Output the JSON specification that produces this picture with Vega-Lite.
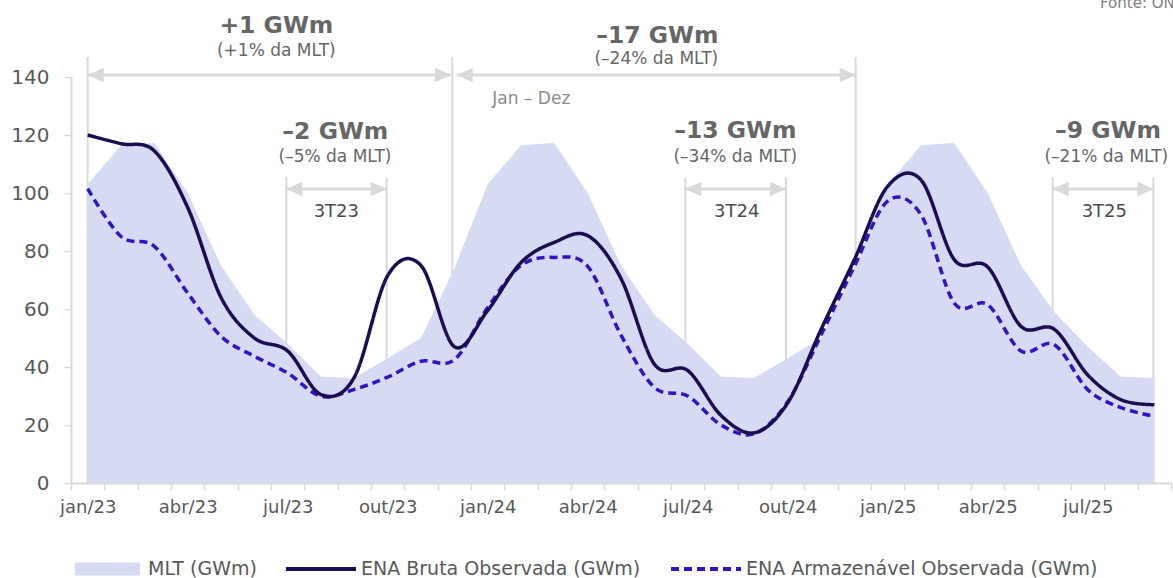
{
  "$schema": "https://vega.github.io/schema/vega-lite/v6.json",
  "width": 1100,
  "height": 406,
  "autosize": {"type": "none"},
  "padding": {"left": 71, "top": 77, "right": 2, "bottom": 95},
  "config": {
    "view": {"stroke": null},
    "font": "DejaVu Sans",
    "legend": {
      "orient": "none",
      "direction": "horizontal",
      "labelLimit": 0,
      "labelFont": "DejaVu Sans",
      "labelFontSize": 19,
      "labelColor": "#595959",
      "symbolOpacity": 1
    }
  },
  "resolve": {"axis": {"x": "independent", "y": "independent"}},
  "datasets": {
    "serie": [
      {"m": 0, "mlt": 103, "bruta": 120, "armazenavel": 101.5},
      {"m": 1, "mlt": 116.5, "bruta": 117, "armazenavel": 85},
      {"m": 2, "mlt": 117.2, "bruta": 114.5, "armazenavel": 81.6},
      {"m": 3, "mlt": 100, "bruta": 95, "armazenavel": 65.5},
      {"m": 4, "mlt": 75, "bruta": 64, "armazenavel": 50.6},
      {"m": 5, "mlt": 58, "bruta": 50, "armazenavel": 43.7},
      {"m": 6, "mlt": 48, "bruta": 45.5, "armazenavel": 37.9},
      {"m": 7, "mlt": 36.6, "bruta": 30.5, "armazenavel": 29.9},
      {"m": 8, "mlt": 36.2, "bruta": 36.5, "armazenavel": 32.3},
      {"m": 9, "mlt": 43, "bruta": 71.5, "armazenavel": 36.5},
      {"m": 10, "mlt": 50, "bruta": 75, "armazenavel": 42},
      {"m": 11, "mlt": 74, "bruta": 47, "armazenavel": 42.5},
      {"m": 12, "mlt": 103, "bruta": 59.5, "armazenavel": 60.5},
      {"m": 13, "mlt": 116.5, "bruta": 76, "armazenavel": 75},
      {"m": 14, "mlt": 117.2, "bruta": 83, "armazenavel": 77.8},
      {"m": 15, "mlt": 100, "bruta": 85.3, "armazenavel": 74.7},
      {"m": 16, "mlt": 75, "bruta": 70.5, "armazenavel": 51},
      {"m": 17, "mlt": 58, "bruta": 41, "armazenavel": 33},
      {"m": 18, "mlt": 48, "bruta": 38.8, "armazenavel": 30},
      {"m": 19, "mlt": 36.6, "bruta": 23.3, "armazenavel": 20},
      {"m": 20, "mlt": 36.2, "bruta": 17.3, "armazenavel": 17},
      {"m": 21, "mlt": 43, "bruta": 27.6, "armazenavel": 28},
      {"m": 22, "mlt": 50, "bruta": 52.9, "armazenavel": 51},
      {"m": 23, "mlt": 74, "bruta": 77, "armazenavel": 74.7},
      {"m": 24, "mlt": 103, "bruta": 102.3, "armazenavel": 97.2},
      {"m": 25, "mlt": 116.5, "bruta": 104.5, "armazenavel": 92.5},
      {"m": 26, "mlt": 117.2, "bruta": 77, "armazenavel": 62},
      {"m": 27, "mlt": 100, "bruta": 74.5, "armazenavel": 61.5},
      {"m": 28, "mlt": 75, "bruta": 54, "armazenavel": 45.5},
      {"m": 29, "mlt": 59, "bruta": 53, "armazenavel": 47.7},
      {"m": 30, "mlt": 47, "bruta": 37.3, "armazenavel": 32.2},
      {"m": 31, "mlt": 36.6, "bruta": 28.7, "armazenavel": 26},
      {"m": 32, "mlt": 36.2, "bruta": 27, "armazenavel": 23}
    ],
    "marcos": [
      {"m": 0, "topo": 146.9},
      {"m": 10.94, "topo": 146.9},
      {"m": 23.04, "topo": 146.8},
      {"m": 5.96, "topo": 105.4},
      {"m": 8.97, "topo": 105.4},
      {"m": 17.93, "topo": 105.4},
      {"m": 20.95, "topo": 105.4},
      {"m": 28.95, "topo": 105.4},
      {"m": 31.97, "topo": 105.4}
    ],
    "intervalos": [
      {"inicio": 0, "fim": 10.9, "v": 140.7},
      {"inicio": 11.07, "fim": 23.04, "v": 140.7},
      {"inicio": 5.96, "fim": 8.97, "v": 101.4},
      {"inicio": 17.93, "fim": 20.95, "v": 101.4},
      {"inicio": 28.95, "fim": 31.97, "v": 101.4}
    ],
    "destaques": [
      {"m": 5.66, "v": 157.6, "texto": "+1 GWm"},
      {"m": 17.09, "v": 154.1, "texto": "–17 GWm"},
      {"m": 7.43, "v": 121.2, "texto": "–2 GWm"},
      {"m": 19.43, "v": 121.3, "texto": "–13 GWm"},
      {"m": 30.61, "v": 121.3, "texto": "–9 GWm"}
    ],
    "notas": [
      {"m": 5.66, "v": 148.8, "texto": "(+1% da MLT)"},
      {"m": 17.06, "v": 146.2, "texto": "(–24% da MLT)"},
      {"m": 7.42, "v": 112.4, "texto": "(–5% da MLT)"},
      {"m": 19.43, "v": 112.5, "texto": "(–34% da MLT)"},
      {"m": 30.56, "v": 112.5, "texto": "(–21% da MLT)"}
    ],
    "trimestres": [
      {"m": 7.46, "v": 93.6, "texto": "3T23"},
      {"m": 19.47, "v": 93.6, "texto": "3T24"},
      {"m": 30.5, "v": 93.6, "texto": "3T25"}
    ],
    "periodo": [
      {"m": 13.31, "v": 132.3, "texto": "Jan – Dez"}
    ],
    "fonte": [
      {"m": 30.37, "v": 165.5, "texto": "Fonte: ONS"}
    ]
  },
  "layer": [
    {
      "data": {"name": "marcos"},
      "mark": {"type": "rule", "color": "#D9D9D9", "strokeWidth": 2},
      "encoding": {
        "x": {"field": "m", "type": "quantitative", "scale": {"domain": [-0.5, 32.5], "nice": false, "zero": false}, "axis": null},
        "y": {"field": "topo", "type": "quantitative", "scale": {"domain": [0, 140], "nice": false}, "axis": null},
        "y2": {"datum": 0}
      }
    },
    {
      "data": {"name": "serie"},
      "transform": [
        {"fold": ["mlt", "bruta", "armazenavel"], "as": ["serie", "valor"]},
        {"filter": "datum.serie === 'mlt'"}
      ],
      "mark": {"type": "area", "interpolate": "linear", "opacity": 1},
      "encoding": {
        "x": {
          "field": "m", "type": "quantitative",
          "scale": {"domain": [-0.5, 32.5], "nice": false, "zero": false},
          "axis": {
            "title": null,
            "orient": "bottom",
            "grid": false,
            "values": [-0.5, 0.5, 1.5, 2.5, 3.5, 4.5, 5.5, 6.5, 7.5, 8.5, 9.5, 10.5, 11.5, 12.5, 13.5, 14.5, 15.5, 16.5, 17.5, 18.5, 19.5, 20.5, 21.5, 22.5, 23.5, 24.5, 25.5, 26.5, 27.5, 28.5, 29.5, 30.5, 31.5, 32.5],
            "labelExpr": "(datum.value + 0.5) % 3 == 0 && datum.value < 32 ? ['jan', 'abr', 'jul', 'out'][((datum.value + 0.5) % 12) / 3] + '/' + (23 + floor((datum.value + 0.5) / 12)) : ''",
            "labelOffset": 16.67,
            "labelFlush": false,
            "labelOverlap": false,
            "labelBound": false,
            "labelAlign": "center",
            "labelFont": "DejaVu Sans",
            "labelFontSize": 18,
            "labelColor": "#595959",
            "labelPadding": 8,
            "domainColor": "#D9D9D9",
            "domainWidth": 2,
            "tickColor": "#D9D9D9",
            "tickWidth": 1.5,
            "tickSize": 7
          }
        },
        "y": {
          "field": "valor", "type": "quantitative",
          "scale": {"domain": [0, 140], "nice": false},
          "axis": {
            "title": null,
            "orient": "left",
            "grid": false,
            "values": [0, 20, 40, 60, 80, 100, 120, 140],
            "labelFont": "DejaVu Sans",
            "labelFontSize": 20,
            "labelColor": "#595959",
            "labelPadding": 15,
            "domainColor": "#D9D9D9",
            "domainWidth": 2,
            "tickColor": "#D9D9D9",
            "tickWidth": 1.5,
            "tickSize": 7
          }
        },
        "fill": {
          "field": "serie", "type": "nominal",
          "scale": {"domain": ["mlt"], "range": ["#D6DAF3"]},
          "legend": {
            "title": null,
            "legendX": 4,
            "legendY": 459.5,
            "symbolType": "M-1,-0.2H1V0.2H-1Z",
            "symbolSize": 4225,
            "symbolStrokeWidth": 0,
            "labelOffset": 8,
            "labelExpr": "'MLT (GWm)'"
          }
        }
      }
    },
    {
      "data": {"name": "serie"},
      "transform": [
        {"fold": ["mlt", "bruta", "armazenavel"], "as": ["serie", "valor"]},
        {"filter": "datum.serie === 'armazenavel'"}
      ],
      "mark": {"type": "line", "interpolate": "cardinal", "strokeWidth": 3.5},
      "encoding": {
        "x": {"field": "m", "type": "quantitative", "scale": {"domain": [-0.5, 32.5], "nice": false, "zero": false}, "axis": null},
        "y": {"field": "valor", "type": "quantitative", "scale": {"domain": [0, 140], "nice": false}, "axis": null},
        "stroke": {
          "field": "serie", "type": "nominal",
          "scale": {"domain": ["bruta", "armazenavel"], "range": ["#1B0D50", "#3413C2"]},
          "legend": {"title": null, "legendX": 213, "legendY": 455, "symbolType": "stroke", "symbolSize": 4900, "symbolStrokeWidth": 4, "labelOffset": 3, "columnPadding": 22, "labelExpr": "datum.label === 'bruta' ? 'ENA Bruta Observada (GWm)' : 'ENA Armazenável Observada (GWm)'"}
        },
        "strokeDash": {
          "field": "serie", "type": "nominal",
          "scale": {"domain": ["bruta", "armazenavel"], "range": [[1, 0], [8, 5]]},
          "legend": {"title": null, "legendX": 213, "legendY": 455, "symbolType": "stroke", "symbolSize": 4900, "symbolStrokeWidth": 4, "labelOffset": 3, "columnPadding": 22, "labelExpr": "datum.label === 'bruta' ? 'ENA Bruta Observada (GWm)' : 'ENA Armazenável Observada (GWm)'"}
        }
      }
    },
    {
      "data": {"name": "serie"},
      "transform": [
        {"fold": ["mlt", "bruta", "armazenavel"], "as": ["serie", "valor"]},
        {"filter": "datum.serie === 'bruta'"}
      ],
      "mark": {"type": "line", "interpolate": "cardinal", "strokeWidth": 3.5},
      "encoding": {
        "x": {"field": "m", "type": "quantitative", "scale": {"domain": [-0.5, 32.5], "nice": false, "zero": false}, "axis": null},
        "y": {"field": "valor", "type": "quantitative", "scale": {"domain": [0, 140], "nice": false}, "axis": null},
        "stroke": {
          "field": "serie", "type": "nominal",
          "scale": {"domain": ["bruta", "armazenavel"], "range": ["#1B0D50", "#3413C2"]},
          "legend": {"title": null, "legendX": 213, "legendY": 455, "symbolType": "stroke", "symbolSize": 4900, "symbolStrokeWidth": 4, "labelOffset": 3, "columnPadding": 22, "labelExpr": "datum.label === 'bruta' ? 'ENA Bruta Observada (GWm)' : 'ENA Armazenável Observada (GWm)'"}
        },
        "strokeDash": {
          "field": "serie", "type": "nominal",
          "scale": {"domain": ["bruta", "armazenavel"], "range": [[1, 0], [8, 5]]},
          "legend": {"title": null, "legendX": 213, "legendY": 455, "symbolType": "stroke", "symbolSize": 4900, "symbolStrokeWidth": 4, "labelOffset": 3, "columnPadding": 22, "labelExpr": "datum.label === 'bruta' ? 'ENA Bruta Observada (GWm)' : 'ENA Armazenável Observada (GWm)'"}
        }
      }
    },
    {
      "data": {"name": "intervalos"},
      "mark": {"type": "rule", "color": "#D9D9D9", "strokeWidth": 3},
      "encoding": {
        "x": {"field": "inicio", "type": "quantitative", "scale": {"domain": [-0.5, 32.5], "nice": false, "zero": false}, "axis": null},
        "x2": {"field": "fim"},
        "y": {"field": "v", "type": "quantitative", "scale": {"domain": [0, 140], "nice": false}, "axis": null}
      }
    },
    {
      "data": {"name": "intervalos"},
      "mark": {"type": "point", "shape": "M0,0L2,-0.9L2,0.9Z", "size": 256, "filled": true, "color": "#D9D9D9", "opacity": 1, "strokeWidth": 0},
      "encoding": {
        "x": {"field": "inicio", "type": "quantitative", "scale": {"domain": [-0.5, 32.5], "nice": false, "zero": false}, "axis": null},
        "y": {"field": "v", "type": "quantitative", "scale": {"domain": [0, 140], "nice": false}, "axis": null}
      }
    },
    {
      "data": {"name": "intervalos"},
      "mark": {"type": "point", "shape": "M0,0L-2,-0.9L-2,0.9Z", "size": 256, "filled": true, "color": "#D9D9D9", "opacity": 1, "strokeWidth": 0},
      "encoding": {
        "x": {"field": "fim", "type": "quantitative", "scale": {"domain": [-0.5, 32.5], "nice": false, "zero": false}, "axis": null},
        "y": {"field": "v", "type": "quantitative", "scale": {"domain": [0, 140], "nice": false}, "axis": null}
      }
    },
    {
      "data": {"name": "destaques"},
      "mark": {"type": "text", "align": "center", "baseline": "middle", "font": "DejaVu Sans", "fontSize": 23.5, "fontWeight": "bold", "color": "#666666"},
      "encoding": {
        "x": {"field": "m", "type": "quantitative", "scale": {"domain": [-0.5, 32.5], "nice": false, "zero": false}, "axis": null},
        "y": {"field": "v", "type": "quantitative", "scale": {"domain": [0, 140], "nice": false}, "axis": null},
        "text": {"field": "texto"}
      }
    },
    {
      "data": {"name": "notas"},
      "mark": {"type": "text", "align": "center", "baseline": "middle", "font": "DejaVu Sans", "fontSize": 17, "color": "#666666"},
      "encoding": {
        "x": {"field": "m", "type": "quantitative", "scale": {"domain": [-0.5, 32.5], "nice": false, "zero": false}, "axis": null},
        "y": {"field": "v", "type": "quantitative", "scale": {"domain": [0, 140], "nice": false}, "axis": null},
        "text": {"field": "texto"}
      }
    },
    {
      "data": {"name": "trimestres"},
      "mark": {"type": "text", "align": "center", "baseline": "middle", "font": "DejaVu Sans", "fontSize": 18, "color": "#4D4D4D"},
      "encoding": {
        "x": {"field": "m", "type": "quantitative", "scale": {"domain": [-0.5, 32.5], "nice": false, "zero": false}, "axis": null},
        "y": {"field": "v", "type": "quantitative", "scale": {"domain": [0, 140], "nice": false}, "axis": null},
        "text": {"field": "texto"}
      }
    },
    {
      "data": {"name": "periodo"},
      "mark": {"type": "text", "align": "center", "baseline": "middle", "font": "DejaVu Sans", "fontSize": 17, "color": "#8C8C8C"},
      "encoding": {
        "x": {"field": "m", "type": "quantitative", "scale": {"domain": [-0.5, 32.5], "nice": false, "zero": false}, "axis": null},
        "y": {"field": "v", "type": "quantitative", "scale": {"domain": [0, 140], "nice": false}, "axis": null},
        "text": {"field": "texto"}
      }
    },
    {
      "data": {"name": "fonte"},
      "mark": {"type": "text", "align": "left", "baseline": "middle", "font": "DejaVu Sans", "fontSize": 15, "color": "#7F7F7F"},
      "encoding": {
        "x": {"field": "m", "type": "quantitative", "scale": {"domain": [-0.5, 32.5], "nice": false, "zero": false}, "axis": null},
        "y": {"field": "v", "type": "quantitative", "scale": {"domain": [0, 140], "nice": false}, "axis": null},
        "text": {"field": "texto"}
      }
    }
  ]
}
